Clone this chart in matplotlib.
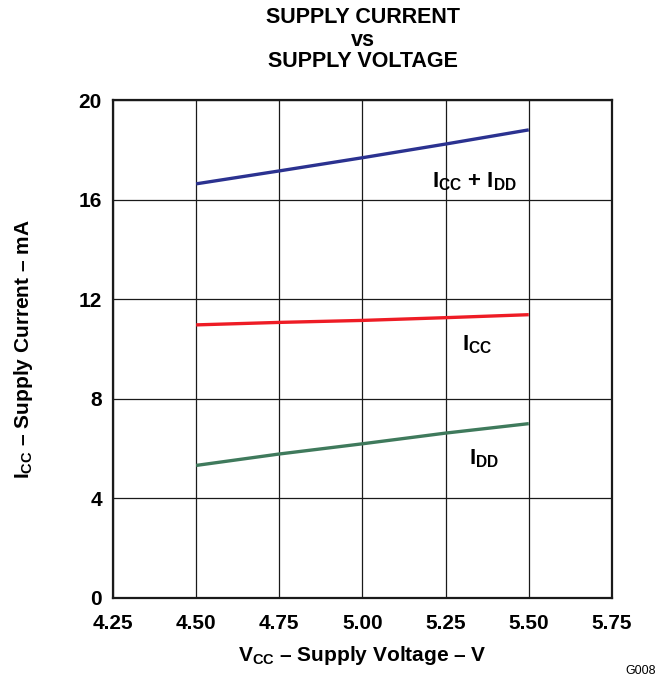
import matplotlib; matplotlib.use("Agg")
import matplotlib.pyplot as plt

# supply voltage (V) and currents (mA)
vcc = [4.50, 4.75, 5.00, 5.25, 5.50]
icc_idd = [16.63, 17.15, 17.68, 18.23, 18.80]
icc = [10.96, 11.06, 11.14, 11.25, 11.37]
idd = [5.31, 5.77, 6.18, 6.61, 6.99]

xticks = [4.25, 4.50, 4.75, 5.00, 5.25, 5.50, 5.75]
yticks = [0, 4, 8, 12, 16, 20]

plt.rcParams["font.family"] = ["Liberation Sans", "DejaVu Sans"]
plt.rcParams["font.weight"] = "bold"
plt.rcParams["mathtext.fontset"] = "custom"
plt.rcParams["mathtext.rm"] = "Liberation Sans:bold"
plt.rcParams["mathtext.it"] = "Liberation Sans:bold"
plt.rcParams["mathtext.bf"] = "Liberation Sans:bold"

fig = plt.figure(figsize=(6.67, 6.79), dpi=100)
ax = fig.add_axes([0.1694, 0.120, 0.748, 0.7327])

ax.plot(vcc, icc_idd, color="#2b3290", lw=2.4, solid_capstyle="butt")
ax.plot(vcc, icc, color="#ee1c25", lw=2.4, solid_capstyle="butt")
ax.plot(vcc, idd, color="#3f7a5c", lw=2.4, solid_capstyle="butt")

fs = 15
ax.text(5.336, 16.7, r"I$_\mathrm{CC}$ + I$_\mathrm{DD}$", fontsize=16, ha="center", va="center")
ax.text(5.345, 10.15, r"I$_\mathrm{CC}$", fontsize=16, ha="center", va="center")
ax.text(5.366, 5.6, r"I$_\mathrm{DD}$", fontsize=16, ha="center", va="center")

ax.set_xlim(4.25, 5.75); ax.set_ylim(0, 20)
ax.set_xticks(xticks); ax.set_yticks(yticks)
ax.set_xticklabels([f"{v:.2f}" for v in xticks])
ax.set_yticklabels([str(v) for v in yticks])
ax.tick_params(axis="x", length=0, labelsize=fs, pad=12)
ax.tick_params(axis="y", length=0, labelsize=fs, pad=8)
ax.grid(True, color="#1a1a1a", lw=0.9)
for s in ax.spines.values():
    s.set_linewidth(1.6); s.set_color("#1a1a1a")

ax.set_xlabel(r"V$_\mathrm{CC}$ – Supply Voltage – V", fontsize=fs, fontweight="bold", labelpad=8)
ax.set_ylabel(r"I$_\mathrm{CC}$ – Supply Current – mA", fontsize=fs, fontweight="bold", labelpad=31)

fig.text(0.5435, 0.9735, "SUPPLY CURRENT", ha="center", va="center", fontsize=15.5)
fig.text(0.5435, 0.941, "vs", ha="center", va="center", fontsize=15.5)
fig.text(0.5435, 0.9087, "SUPPLY VOLTAGE", ha="center", va="center", fontsize=15.5)
fig.text(0.96, 0.003, "G008", ha="center", va="bottom", fontsize=9, fontweight="normal")

plt.savefig("out.png", dpi=100)
